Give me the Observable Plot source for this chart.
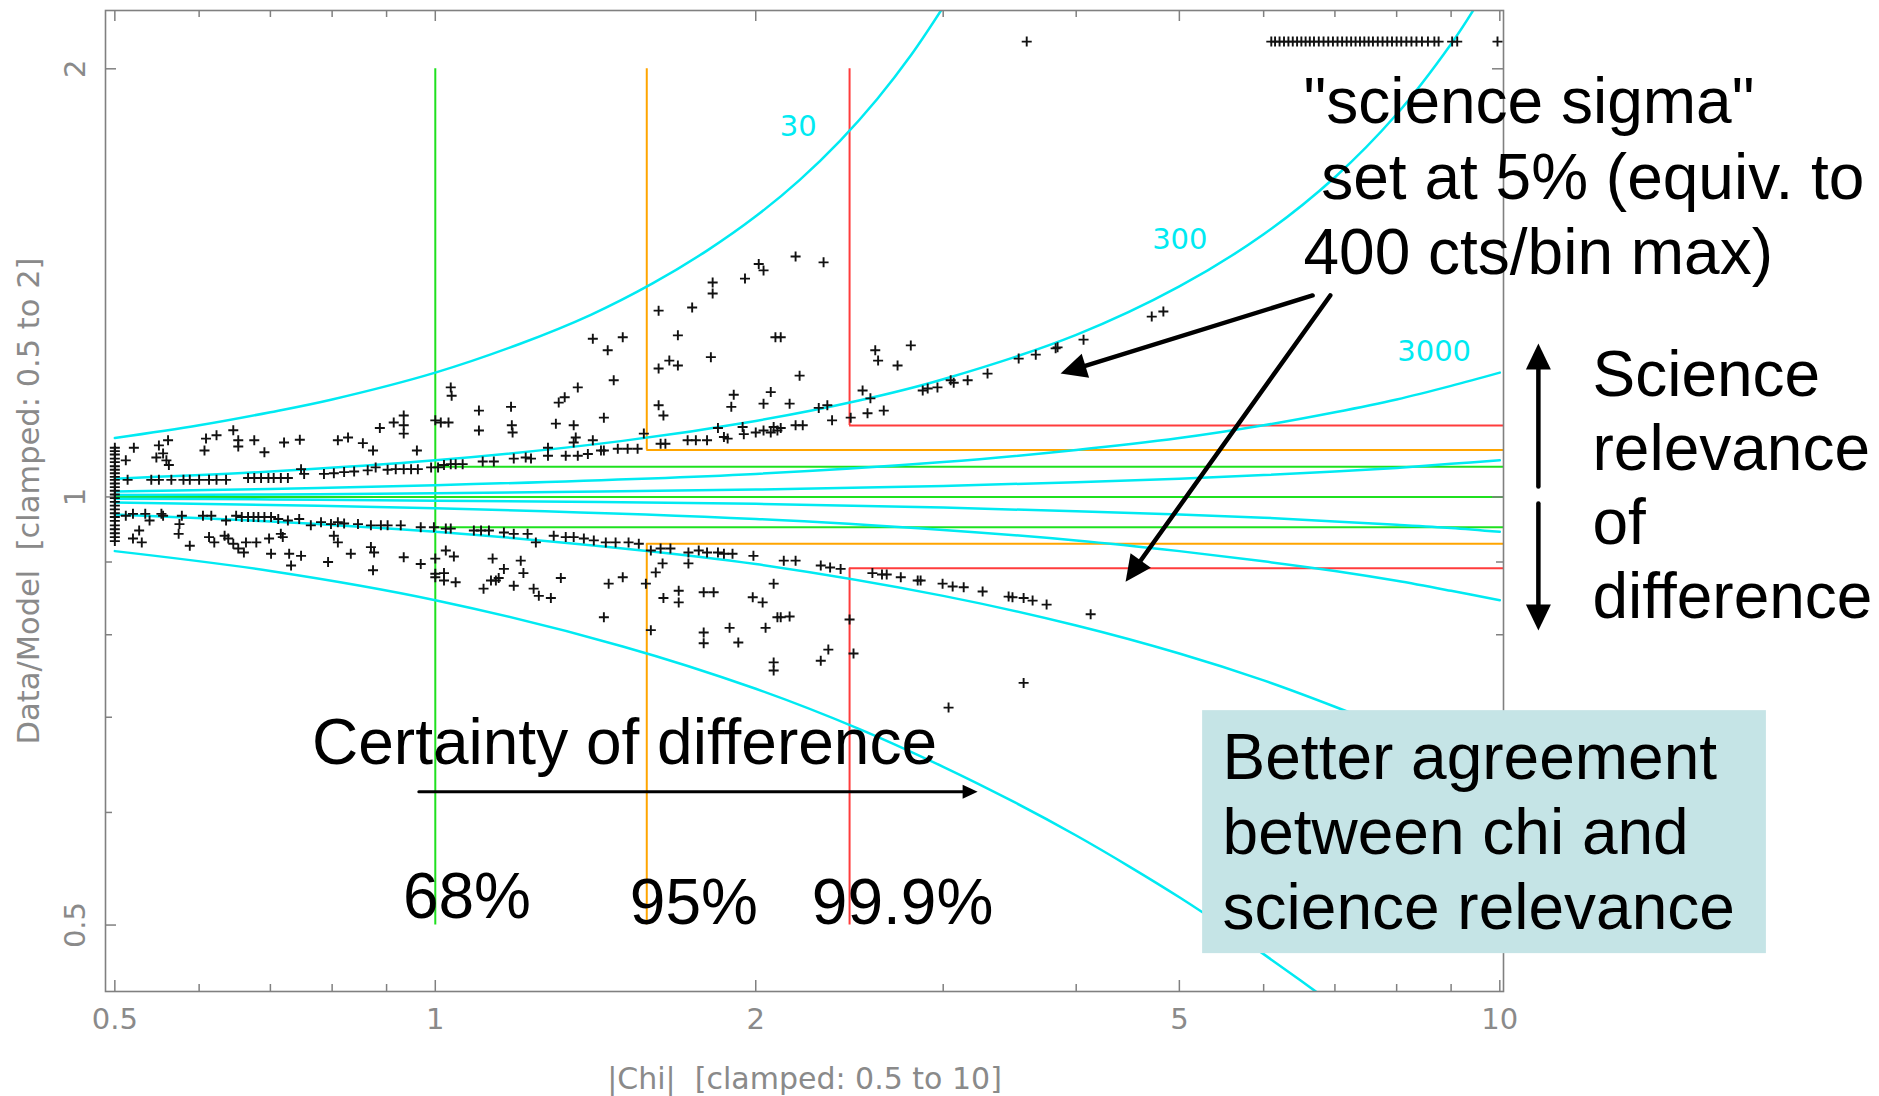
<!DOCTYPE html>
<html><head><meta charset="utf-8">
<script src="https://cdn.jsdelivr.net/npm/d3@7"></script>
<script src="https://cdn.jsdelivr.net/npm/@observablehq/plot@0.6"></script>
<style>html,body{margin:0;padding:0;background:#fff;} #chart svg{display:block;}</style>
</head><body><div id="chart"></div>
<script>
// ---------------- data ----------------
const xDomain = [0.49, 10.08];      // |Chi|
const yDomain = [0.449, 2.198];     // Data/Model
const clampY = [0.5, 2];
const xMajor = [0.5, 1, 2, 5, 10];
const xMinor = [0.6, 0.7, 0.8, 0.9, 3, 4, 6, 7, 8, 9];
const yMajor = [0.5, 1, 2];
const yMinor = [0.6, 0.7, 0.8, 0.9];

const levels = ["68%", "95%", "99.9%"];
const chiCut = [1.0, 1.58, 2.45];
const ratioHi = [1.05, 1.079, 1.1225];
const ratioLo = [0.952, 0.927, 0.891];

const countLabels = ["30", "300", "3000"];

const curve30Hi = [[0.5,1.100],[0.6,1.123],[0.7,1.147],[0.8,1.171],[1.0,1.223],[1.2,1.281],[1.4,1.343],[1.6,1.413],[1.8,1.490],[2.0,1.575],[2.2,1.671],[2.4,1.780],[2.6,1.904],[2.8,2.046],[3.0,2.210]];
const curve30Lo = [[0.5,0.916],[0.7,0.887],[1.0,0.846],[1.5,0.785],[2.0,0.733],[2.5,0.687],[3.0,0.646],[3.5,0.610],[4.0,0.578],[4.5,0.549],[5.0,0.523],[5.5,0.499],[6.0,0.477],[6.5,0.457],[7.0,0.439]];
const curve300Hi = [[0.5,1.030],[0.7,1.042],[1,1.061],[1.5,1.095],[2,1.131],[2.5,1.169],[3,1.210],[4,1.300],[5,1.406],[6,1.530],[7,1.678],[8,1.858],[9,2.082],[9.5,2.215]];
const curve300Lo = [[0.5,0.972],[0.7,0.961],[1,0.945],[1.5,0.920],[2,0.897],[3,0.852],[4,0.812],[5,0.776],[6,0.743],[7,0.712],[8,0.684],[9,0.658],[10,0.634]];
const curve3000Hi = [[0.5,1.009],[0.7,1.013],[1,1.019],[2,1.038],[3,1.058],[4,1.079],[5,1.100],[6,1.123],[7,1.147],[8,1.171],[9,1.197],[10,1.223]];
const curve3000Lo = [[0.5,0.991],[0.7,0.987],[1,0.982],[2,0.965],[3,0.948],[4,0.932],[5,0.916],[6,0.901],[7,0.887],[8,0.873],[9,0.859],[10,0.846]];
const curve30000Hi = [[0.5,1.003],[0.7,1.004],[1,1.006],[2,1.012],[3,1.018],[4,1.024],[5,1.030],[6,1.036],[7,1.042],[8,1.048],[9,1.055],[10,1.061]];
const curve30000Lo = [[0.5,0.997],[0.7,0.996],[1,0.994],[2,0.989],[3,0.983],[4,0.977],[5,0.972],[6,0.967],[7,0.961],[8,0.956],[9,0.951],[10,0.945]];

// scatter points [|chi|, data/model]
const points = [
// column clamped at 0.5
[0.5,1.083],[0.5,1.077],[0.5,1.071],[0.5,1.064],[0.5,1.058],[0.5,1.051],[0.5,1.045],[0.5,1.039],[0.5,1.033],[0.5,1.028],[0.5,1.022],[0.5,1.016],[0.5,1.010],[0.5,1.004],[0.5,0.998],[0.5,0.992],[0.5,0.986],[0.5,0.980],[0.5,0.974],[0.5,0.968],[0.5,0.962],[0.5,0.955],[0.5,0.949],[0.5,0.943],[0.5,0.937],[0.5,0.931],
// upper scatter (chi<1)
[0.512,1.061],[0.521,1.083],[0.547,1.066],[0.550,1.087],[0.555,1.073],[0.561,1.096],[0.559,1.061],[0.562,1.053],[0.607,1.078],[0.609,1.099],[0.623,1.105],[0.646,1.114],[0.653,1.096],[0.653,1.085],[0.676,1.096],[0.691,1.075],[0.721,1.092],[0.746,1.097],[0.810,1.096],[0.828,1.101],[0.855,1.091],[0.874,1.078],[0.887,1.118],[0.914,1.128],[0.934,1.141],[0.934,1.123],[0.934,1.108],[0.961,1.078],[1.0,1.132],
// upper band (chi<1)
[0.514,1.028],[0.541,1.028],[0.550,1.028],[0.565,1.028],[0.580,1.028],[0.588,1.028],[0.600,1.028],[0.613,1.028],[0.623,1.028],[0.636,1.028],[0.667,1.031],[0.676,1.031],[0.686,1.031],[0.697,1.031],[0.705,1.031],[0.716,1.031],[0.727,1.031],[0.748,1.046],[0.753,1.038],[0.786,1.038],[0.803,1.039],[0.821,1.041],[0.839,1.042],[0.864,1.044],[0.879,1.049],[0.902,1.045],[0.918,1.046],[0.934,1.046],[0.949,1.046],[0.963,1.046],[0.991,1.049],[1.006,1.049],
// lower band (chi<1)
[0.512,0.970],[0.520,0.973],[0.534,0.973],[0.539,0.9625],[0.553,0.973],[0.555,0.970],[0.575,0.957],[0.578,0.970],[0.605,0.970],[0.616,0.970],[0.636,0.9625],[0.650,0.970],[0.658,0.968],[0.667,0.968],[0.675,0.968],[0.682,0.968],[0.691,0.968],[0.701,0.968],[0.712,0.965],[0.727,0.9625],[0.745,0.965],[0.764,0.955],[0.781,0.960],[0.798,0.957],[0.810,0.960],[0.821,0.958],[0.846,0.957],[0.870,0.955],[0.889,0.955],[0.902,0.955],[0.928,0.955],[0.969,0.952],[0.997,0.952],
// lower scatter (chi<1)
[0.520,0.935],[0.530,0.929],[0.527,0.947],[0.574,0.942],[0.588,0.924],[0.613,0.937],[0.620,0.929],[0.634,0.939],[0.639,0.935],[0.646,0.927],[0.653,0.920],[0.664,0.929],[0.661,0.914],[0.679,0.929],[0.698,0.935],[0.701,0.912],[0.716,0.942],[0.719,0.937],[0.729,0.912],[0.732,0.895],[0.748,0.909],[0.793,0.900],[0.810,0.929],[0.803,0.939],[0.833,0.912],[0.870,0.922],[0.876,0.914],[0.874,0.888],[0.934,0.907],[0.969,0.897],[1.0,0.905],[1.0,0.883],[1.0,0.878],
// upper scatter (1<chi<2.1)
[1.034,1.194],[1.036,1.178],[1.012,1.128],[1.029,1.128],[1.099,1.150],[1.099,1.1135],[1.178,1.157],[1.180,1.123],[1.182,1.110],[1.298,1.126],[1.306,1.165],[1.323,1.175],[1.349,1.123],[1.361,1.194],[1.355,1.101],[1.349,1.092],[1.406,1.292],[1.452,1.268],[1.500,1.295],[1.471,1.208],[1.440,1.137],[1.406,1.096],[1.570,1.108],[1.621,1.352],[1.621,1.231],[1.621,1.160],[1.638,1.141],[1.659,1.247],[1.690,1.237],[1.690,1.299],[1.743,1.359],[1.815,1.254],[1.822,1.415],[1.822,1.390],[1.954,1.424],[2.013,1.458],[2.034,1.443],[2.087,1.295],[1.907,1.180],[1.897,1.157],[2.066,1.185],[2.034,1.163],
// upper band (1<chi<2.1)
[1.019,1.053],[1.034,1.0545],[1.045,1.0545],[1.061,1.0545],[1.108,1.059],[1.135,1.059],[1.185,1.064],[1.216,1.066],[1.230,1.064],[1.276,1.069],[1.276,1.083],[1.326,1.069],[1.361,1.069],[1.391,1.072],[1.431,1.078],[1.440,1.078],[1.484,1.081],[1.516,1.081],[1.549,1.081],[1.628,1.090],[1.645,1.090],[1.726,1.096],[1.757,1.096],[1.800,1.096],[1.843,1.118],[1.867,1.102],[1.882,1.099],[1.944,1.120],[1.949,1.107],[2.0,1.110],[2.034,1.1135],[2.066,1.110],[2.079,1.120],[2.096,1.1135],
// lower band (1<chi<2.1)
[1.023,0.950],[1.034,0.950],[1.087,0.947],[1.104,0.947],[1.123,0.947],[1.160,0.944],[1.185,0.942],[1.221,0.942],[1.243,0.929],[1.292,0.939],[1.326,0.937],[1.349,0.937],[1.379,0.935],[1.409,0.932],[1.446,0.929],[1.477,0.929],[1.519,0.929],[1.553,0.927],[1.594,0.917],[1.628,0.920],[1.663,0.920],[1.729,0.914],[1.768,0.917],[1.800,0.914],[1.843,0.914],[1.867,0.912],[1.902,0.912],[1.990,0.909],
// lower scatter (1<chi<2.1)
[1.023,0.917],[1.041,0.908],[1.019,0.884],[1.019,0.8735],[1.045,0.871],[1.132,0.905],[1.160,0.890],[1.203,0.902],[1.210,0.884],[1.110,0.862],[1.128,0.8735],[1.140,0.8735],[1.147,0.877],[1.185,0.866],[1.237,0.862],[1.251,0.852],[1.284,0.849],[1.312,0.877],[1.455,0.869],[1.500,0.878],[1.440,0.823],[1.577,0.869],[1.611,0.885],[1.635,0.898],[1.638,0.849],[1.693,0.859],[1.693,0.843],[1.594,0.806],[1.729,0.898],[1.787,0.857],[1.826,0.857],[1.787,0.803],[1.787,0.789],[1.890,0.809],[1.926,0.790],[1.987,0.850],[2.030,0.843],[2.043,0.809],[2.079,0.869],[2.096,0.823],[2.079,0.765],[2.079,0.755],
// upper (chi>2.1)
[2.180,1.476],[2.316,1.462],[2.111,1.295],[2.199,1.217],[2.152,1.163],[2.292,1.155],[2.335,1.160],[2.111,1.118],[2.180,1.123],[2.214,1.123],[2.359,1.132],[2.456,1.137],[2.520,1.188],[2.563,1.173],[2.547,1.145],[2.638,1.150],[2.590,1.268],[2.606,1.247],[2.718,1.237],[2.797,1.278],[2.870,1.188],[2.901,1.192],[2.963,1.194],[3.049,1.208],[3.069,1.203],[3.163,1.208],[3.302,1.221],[3.532,1.251],[3.665,1.259],[3.826,1.272],[3.842,1.274],[4.064,1.290],[4.71,1.339],[4.83,1.350],
// lower (chi>2.1)
[2.125,0.902],[2.180,0.902],[2.302,0.895],[2.349,0.892],[2.403,0.890],[2.574,0.884],[2.628,0.882],[2.655,0.882],[2.737,0.878],[2.839,0.8735],[2.857,0.8735],[2.996,0.869],[3.062,0.865],[3.136,0.864],[3.267,0.858],[3.456,0.851],[3.485,0.850],[3.570,0.849],[3.640,0.8455],[3.752,0.840],[4.127,0.827],
[2.111,0.823],[2.152,0.824],[2.450,0.820],[2.471,0.776],[2.302,0.767],[2.340,0.781],[3.035,0.711],[3.570,0.740],
// clamped row near the top
[3.594,2.09],[6.10,2.09],[6.15,2.09],[6.21,2.09],[6.27,2.09],[6.33,2.09],[6.39,2.09],[6.45,2.09],[6.51,2.09],[6.57,2.09],[6.63,2.09],[6.69,2.09],[6.76,2.09],[6.83,2.09],[6.90,2.09],[6.97,2.09],[7.04,2.09],[7.11,2.09],[7.18,2.09],[7.25,2.09],[7.32,2.09],[7.39,2.09],[7.46,2.09],[7.53,2.09],[7.60,2.09],[7.68,2.09],[7.76,2.09],[7.84,2.09],[7.92,2.09],[8.00,2.09],[8.08,2.09],[8.17,2.09],[8.26,2.09],[8.35,2.09],[8.45,2.09],[8.56,2.09],[8.68,2.09],[8.76,2.09],[9.02,2.09],[9.12,2.09],[9.95,2.09]
];

// ---------------- annotations (data coordinates) ----------------
const countLabelPos = [[2.107,1.793],[4.714,1.495],[8.01,1.2464]];
const sigmaNote = {text: "\"science sigma\"\n\u00A0set at 5% (equiv. to\n400 cts/bin max)", chi: 6.54, r: 1.4336};
const relevanceNote = {text: "Science\nrelevance\nof\ndifference", chi: 12.22, r: 0.8226};
const certaintyNote = {text: "Certainty of difference", chi: 0.766, r: 0.6494};
const agreementNote = {text: "Better agreement\nbetween chi and\nscience relevance", chi: 5.49, r: 0.4971};
const agreementBox = {x1: 5.258, x2: 17.80, y1: 0.4774, y2: 0.7075};
const levelLabelPos = [[0.9324,0.5061],[1.523,0.5012],[2.258,0.5012]];
const bigArrows = [
  {x1: 6.67, y1: 1.3857, x2: 3.867, y2: 1.2213, rot: 252.8},
  {x1: 6.93, y1: 1.3857, x2: 4.451, y2: 0.8718, rot: 215.6},
  {x1: 10.87, y1: 1.0170, x2: 10.87, y2: 1.2819, rot: 0},
  {x1: 10.87, y1: 0.9894, x2: 10.87, y2: 0.8054, rot: 180}
];
const smallArrows = [
  {x1: 0.965, y1: 0.6204, x2: 3.232, y2: 0.6204, rot: 90}
];

// ---------------- styles ----------------
const C = {green: "#1fe01f", orange: "#ffa500", red: "#ff3c3c", cyan: "#00eaf2", frame: "#808080", tick: "#8a8a8a", box: "#c5e4e6"};
const levelColor = {"68%": C.green, "95%": C.orange, "99.9%": C.red};
const FONT = "'Liberation Sans', Arial, sans-serif";
const AXFONT = "'DejaVu Sans', sans-serif";
const W = 1879, H = 1096, mL = 105, mR = 376, mT = 10, mB = 105;
const fw = W - mL - mR, fh = H - mT - mB;

// ---------------- derived tables ----------------
const curves = [
  ["30+", curve30Hi], ["30-", curve30Lo], ["300+", curve300Hi], ["300-", curve300Lo],
  ["3000+", curve3000Hi], ["3000-", curve3000Lo], ["30000+", curve30000Hi], ["30000-", curve30000Lo]
].flatMap(([k, pts]) => pts.map(([chi, r]) => ({k, chi, r})));

const vSegs = levels.flatMap((l, i) => i === 0
  ? [{x: chiCut[i], y1: clampY[0], y2: clampY[1], l}]
  : [{x: chiCut[i], y1: ratioHi[i], y2: clampY[1], l}, {x: chiCut[i], y1: clampY[0], y2: ratioLo[i], l}]);
const hSegs = [{y: 1, x1: xMajor[0], x2: xDomain[1], l: levels[0]}].concat(
  levels.flatMap((l, i) => [{y: ratioHi[i], x1: chiCut[i], x2: xDomain[1], l}, {y: ratioLo[i], x1: chiCut[i], x2: xDomain[1], l}]));

const plusSymbol = {draw(ctx) { const s = 5; ctx.moveTo(-s, 0); ctx.lineTo(s, 0); ctx.moveTo(0, -s); ctx.lineTo(0, s); }};
const headBig = {draw(ctx) { ctx.moveTo(0, 0); ctx.lineTo(-12.5, 26); ctx.lineTo(12.5, 26); ctx.closePath(); }};
const headSmall = {draw(ctx) { ctx.moveTo(0, 0); ctx.lineTo(-7, 15); ctx.lineTo(7, 15); ctx.closePath(); }};

const chart = Plot.plot({
  width: W, height: H,
  marginLeft: mL, marginRight: mR, marginTop: mT, marginBottom: mB,
  x: {type: "log", domain: xDomain, axis: null},
  y: {type: "log", domain: yDomain, axis: null},
  color: {type: "identity"},
  style: {background: "#fff", overflow: "visible"},
  marks: [
    // threshold lines
    Plot.ruleX(vSegs, {x: "x", y1: "y1", y2: "y2", stroke: d => levelColor[d.l], strokeWidth: 2}),
    Plot.ruleY(hSegs, {y: "y", x1: "x1", x2: "x2", stroke: d => levelColor[d.l], strokeWidth: 2}),
    // constant-count curves
    Plot.line(curves, {x: "chi", y: "r", z: "k", stroke: C.cyan, strokeWidth: 2.5, curve: "catmull-rom", clip: true}),
    Plot.text(countLabels, {x: (d, i) => countLabelPos[i][0], y: (d, i) => countLabelPos[i][1], text: d => d, fill: C.cyan, fontSize: 29, fontFamily: AXFONT, textAnchor: "start", lineAnchor: "bottom"}),
    // frame and ticks
    Plot.frame({stroke: C.frame, strokeWidth: 1.6}),
    Plot.ruleX(xMajor, {x: d => d, insetTop: fh - 11, stroke: C.frame, strokeWidth: 1.5}),
    Plot.ruleX(xMinor, {x: d => d, insetTop: fh - 7, stroke: C.frame, strokeWidth: 1.5}),
    Plot.ruleX(xMajor, {x: d => d, insetBottom: fh - 11, stroke: C.frame, strokeWidth: 1.5}),
    Plot.ruleX(xMinor, {x: d => d, insetBottom: fh - 7, stroke: C.frame, strokeWidth: 1.5}),
    Plot.ruleY(yMajor, {y: d => d, insetRight: fw - 11, stroke: C.frame, strokeWidth: 1.5}),
    Plot.ruleY(yMinor, {y: d => d, insetRight: fw - 7, stroke: C.frame, strokeWidth: 1.5}),
    Plot.ruleY(yMajor, {y: d => d, insetLeft: fw - 11, stroke: C.frame, strokeWidth: 1.5}),
    Plot.ruleY(yMinor, {y: d => d, insetLeft: fw - 7, stroke: C.frame, strokeWidth: 1.5}),
    Plot.text(xMajor, {x: d => d, frameAnchor: "bottom", dy: 28, lineAnchor: "middle", textAnchor: "middle", text: d => String(d), fill: C.tick, fontSize: 29, fontFamily: AXFONT}),
    Plot.text(yMajor, {y: d => d, frameAnchor: "left", dx: -30, rotate: -90, lineAnchor: "middle", textAnchor: "middle", text: d => String(d), fill: C.tick, fontSize: 29, fontFamily: AXFONT}),
    Plot.text(["|Chi|  [clamped: 0.5 to 10]"], {frameAnchor: "bottom", dy: 88, lineAnchor: "middle", textAnchor: "middle", text: d => d, fill: C.tick, fontSize: 30, fontFamily: AXFONT}),
    Plot.text(["Data/Model  [clamped: 0.5 to 2]"], {frameAnchor: "left", dx: -76, rotate: -90, lineAnchor: "middle", textAnchor: "middle", text: d => d, fill: C.tick, fontSize: 30.5, fontFamily: AXFONT}),
    // scatter
    Plot.dot(points, {x: d => d[0], y: d => d[1], symbol: plusSymbol, r: 3, fill: "none", stroke: "#111", strokeWidth: 1.9}),
    // annotations
    Plot.rect([agreementBox], {x1: "x1", x2: "x2", y1: "y1", y2: "y2", fill: C.box}),
    Plot.text([agreementNote], {x: "chi", y: "r", text: "text", textAnchor: "start", lineAnchor: "bottom", lineHeight: 1.172, fontSize: 64, fontFamily: FONT, fill: "#000"}),
    Plot.text([sigmaNote], {x: "chi", y: "r", text: "text", textAnchor: "start", lineAnchor: "bottom", lineHeight: 1.18, fontSize: 64, fontFamily: FONT, fill: "#000"}),
    Plot.text([relevanceNote], {x: "chi", y: "r", text: "text", textAnchor: "start", lineAnchor: "bottom", lineHeight: 1.156, fontSize: 64, fontFamily: FONT, fill: "#000"}),
    Plot.text([certaintyNote], {x: "chi", y: "r", text: "text", textAnchor: "start", lineAnchor: "bottom", fontSize: 64, fontFamily: FONT, fill: "#000"}),
    Plot.text(levels, {x: (d, i) => levelLabelPos[i][0], y: (d, i) => levelLabelPos[i][1], text: d => d, textAnchor: "start", lineAnchor: "bottom", fontSize: 64, fontFamily: FONT, fill: "#000"}),
    Plot.arrow(bigArrows, {x1: "x1", y1: "y1", x2: "x2", y2: "y2", headLength: 0, insetEnd: 14, stroke: "#000", strokeWidth: 4.5}),
    Plot.arrow(smallArrows, {x1: "x1", y1: "y1", x2: "x2", y2: "y2", headLength: 0, insetEnd: 8, stroke: "#000", strokeWidth: 3}),
    Plot.dot(bigArrows, {x: "x2", y: "y2", symbol: headBig, rotate: "rot", fill: "#000", stroke: "none"}),
    Plot.dot(smallArrows, {x: "x2", y: "y2", symbol: headSmall, rotate: "rot", fill: "#000", stroke: "none"})
  ]
});
document.getElementById("chart").append(chart);
</script></body></html>
